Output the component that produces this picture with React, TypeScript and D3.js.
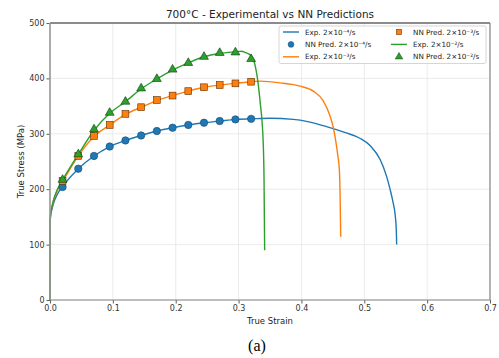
import * as d3 from 'd3';
import { useEffect, useRef } from 'react';

const X_TICKS = [0, 0.1, 0.2, 0.3, 0.4, 0.5, 0.6, 0.7];
const Y_TICKS = [0, 100, 200, 300, 400, 500];

// NN prediction points (same strain grid for all three rates)
const PRED_STRAIN = [0.02, 0.045, 0.07, 0.095, 0.12, 0.145, 0.17, 0.195, 0.22, 0.245, 0.27, 0.295, 0.32];
const PRED_LOW = [204, 237, 260, 277, 288, 297, 305, 311, 316, 320, 323, 326, 327];
const PRED_MID = [215, 260, 296, 316, 336, 348, 361, 369, 377, 384, 388, 391, 394];
const PRED_HIGH = [217, 263, 308, 338, 358, 382, 399, 416, 428, 439, 446, 447, 435];

// experimental curves: [strain, stress]
const EXP_LOW: [number, number][] = [
    [0, 0], [0.0002, 140], [0.001, 152], [0.003, 163], [0.006, 176], [0.01, 187], [0.015, 197],
    [0.02, 205], [0.045, 237], [0.07, 260], [0.095, 277], [0.12, 288], [0.145, 297], [0.17, 305],
    [0.195, 311], [0.22, 316], [0.245, 320], [0.27, 323], [0.295, 326], [0.32, 327], [0.35, 328],
    [0.387, 326], [0.41, 322], [0.44, 313], [0.47, 302], [0.493, 292], [0.51, 278], [0.525, 254],
    [0.535, 225], [0.541, 200], [0.546, 175], [0.549, 155], [0.551, 125], [0.5515, 100],
];
const EXP_MID: [number, number][] = [
    [0, 0], [0.0002, 142], [0.001, 155], [0.003, 167], [0.006, 181], [0.01, 193], [0.015, 205],
    [0.02, 214], [0.045, 260], [0.07, 295], [0.095, 316], [0.12, 335], [0.145, 348], [0.17, 360],
    [0.195, 369], [0.22, 377], [0.245, 384], [0.27, 388], [0.295, 391], [0.32, 394], [0.334, 395],
    [0.366, 392], [0.398, 386], [0.419, 377], [0.435, 359], [0.4455, 332], [0.451, 310],
    [0.455, 284], [0.458, 260], [0.4603, 236], [0.4615, 190], [0.4625, 114],
];
const EXP_HIGH: [number, number][] = [
    [0, 0], [0.0002, 143], [0.001, 156], [0.003, 168], [0.006, 182], [0.01, 195], [0.015, 207],
    [0.02, 217], [0.045, 263], [0.07, 306], [0.095, 337], [0.12, 358], [0.145, 381], [0.17, 399],
    [0.195, 415], [0.22, 428], [0.245, 439], [0.27, 445], [0.295, 448], [0.305, 449], [0.31, 447],
    [0.32, 441], [0.326, 425], [0.331, 392], [0.335, 350], [0.3375, 320], [0.339, 289],
    [0.3405, 220], [0.341, 150], [0.3415, 90],
];

const BLUE = '#1f77b4';
const ORANGE = '#ff7f0e';
const GREEN = '#2ca02c';

const LEGEND = [
    { label: 'Exp. 2×10⁻⁴/s', color: BLUE, kind: 'line' },
    { label: 'NN Pred. 2×10⁻⁴/s', color: BLUE, kind: 'circle' },
    { label: 'Exp. 2×10⁻³/s', color: ORANGE, kind: 'line' },
    { label: 'NN Pred. 2×10⁻³/s', color: ORANGE, kind: 'square' },
    { label: 'Exp. 2×10⁻²/s', color: GREEN, kind: 'line' },
    { label: 'NN Pred. 2×10⁻²/s', color: GREEN, kind: 'triangle' },
];

const W = 499;
const H = 358;
const margin = { top: 23, right: 9, bottom: 58, left: 50 };
const FONT = 'DejaVu Sans, sans-serif';

export default function App() {
    const svgRef = useRef<SVGSVGElement>(null);

    useEffect(() => {
        if (!svgRef.current) return;
        const svg = d3.select(svgRef.current);
        svg.selectAll('*').remove();

        const innerW = W - margin.left - margin.right;
        const innerH = H - margin.top - margin.bottom;
        const x = d3.scaleLinear().domain([0, 0.7]).range([0, innerW]);
        const y = d3.scaleLinear().domain([0, 500]).range([innerH, 0]);

        svg.append('rect').attr('width', W).attr('height', H).attr('fill', '#fff');

        svg.append('text')
            .attr('x', margin.left + innerW / 2)
            .attr('y', 18)
            .attr('text-anchor', 'middle')
            .attr('font-family', FONT)
            .attr('font-size', 10.5)
            .attr('fill', '#222')
            .text('700°C - Experimental vs NN Predictions');

        const g = svg.append('g').attr('transform', `translate(${margin.left},${margin.top})`);

        // grid
        g.append('g')
            .selectAll('line')
            .data(X_TICKS)
            .join('line')
            .attr('x1', (d) => x(d))
            .attr('x2', (d) => x(d))
            .attr('y1', 0)
            .attr('y2', innerH)
            .attr('stroke', '#e6e6e6')
            .attr('stroke-width', 0.8);
        g.append('g')
            .selectAll('line')
            .data(Y_TICKS)
            .join('line')
            .attr('x1', 0)
            .attr('x2', innerW)
            .attr('y1', (d) => y(d))
            .attr('y2', (d) => y(d))
            .attr('stroke', '#e6e6e6')
            .attr('stroke-width', 0.8);

        const line = d3
            .line<[number, number]>()
            .x((d) => x(d[0]))
            .y((d) => y(d[1]))
            .curve(d3.curveMonotoneX);

        const exps: [[number, number][], string][] = [
            [EXP_LOW, BLUE],
            [EXP_MID, ORANGE],
            [EXP_HIGH, GREEN],
        ];
        exps.forEach(([data, color]) => {
            g.append('path')
                .attr('d', line(data))
                .attr('fill', 'none')
                .attr('stroke', color)
                .attr('stroke-width', 1.4);
        });

        // NN prediction markers
        PRED_STRAIN.forEach((s, i) => {
            g.append('circle')
                .attr('cx', x(s))
                .attr('cy', y(PRED_LOW[i]))
                .attr('r', 3.7)
                .attr('fill', BLUE)
                .attr('stroke', '#1a4a6e')
                .attr('stroke-width', 0.6);
        });
        PRED_STRAIN.forEach((s, i) => {
            g.append('rect')
                .attr('x', x(s) - 3.4)
                .attr('y', y(PRED_MID[i]) - 3.4)
                .attr('width', 6.8)
                .attr('height', 6.8)
                .attr('fill', ORANGE)
                .attr('stroke', '#5a3000')
                .attr('stroke-width', 0.6);
        });
        const tri = d3.symbol().type(d3.symbolTriangle).size(34);
        PRED_STRAIN.forEach((s, i) => {
            g.append('path')
                .attr('d', tri())
                .attr('transform', `translate(${x(s)},${y(PRED_HIGH[i])})`)
                .attr('fill', GREEN)
                .attr('stroke', '#0f3a0f')
                .attr('stroke-width', 0.6);
        });

        // axes
        const xAxis = g
            .append('g')
            .attr('transform', `translate(0,${innerH})`)
            .call(d3.axisBottom(x).tickValues(X_TICKS).tickFormat(d3.format('.1f')).tickSize(3.5).tickPadding(2));
        const yAxis = g
            .append('g')
            .call(d3.axisLeft(y).tickValues(Y_TICKS).tickFormat(d3.format('d')).tickSize(3.5).tickPadding(2));
        [xAxis, yAxis].forEach((a) => {
            a.select('.domain').remove();
            a.selectAll('line').attr('stroke', '#333').attr('stroke-width', 0.8);
            a.selectAll('text').attr('font-family', FONT).attr('font-size', 8).attr('fill', '#333');
        });

        // spines
        g.append('line').attr('x1', 0).attr('x2', innerW).attr('y1', 0).attr('y2', 0).attr('stroke', '#222').attr('stroke-width', 1);
        g.append('line').attr('x1', 0).attr('x2', innerW).attr('y1', innerH).attr('y2', innerH).attr('stroke', '#888').attr('stroke-width', 1.2);
        g.append('line').attr('x1', 0).attr('x2', 0).attr('y1', 0).attr('y2', innerH).attr('stroke', '#999').attr('stroke-width', 1.6);
        g.append('line').attr('x1', innerW).attr('x2', innerW).attr('y1', 0).attr('y2', innerH).attr('stroke', '#888').attr('stroke-width', 1.2);

        // axis labels
        svg.append('text')
            .attr('x', margin.left + innerW / 2)
            .attr('y', 324)
            .attr('text-anchor', 'middle')
            .attr('font-family', FONT)
            .attr('font-size', 8.5)
            .attr('fill', '#222')
            .text('True Strain');
        svg.append('text')
            .attr('transform', `translate(24,${margin.top + innerH / 2}) rotate(-90)`)
            .attr('text-anchor', 'middle')
            .attr('font-family', FONT)
            .attr('font-size', 8.5)
            .attr('fill', '#222')
            .text('True Stress (MPa)');

        // legend
        const lg = svg.append('g');
        lg.append('rect')
            .attr('x', 279)
            .attr('y', 26)
            .attr('width', 207)
            .attr('height', 37.5)
            .attr('rx', 2)
            .attr('fill', '#fff')
            .attr('fill-opacity', 0.85)
            .attr('stroke', '#ccc')
            .attr('stroke-width', 0.8);
        const legTri = d3.symbol().type(d3.symbolTriangle).size(24);
        LEGEND.forEach((item, i) => {
            const col = Math.floor(i / 3);
            const row = i % 3;
            const hx = col === 0 ? 283 : 391;
            const hw = 16;
            const cy = 32 + row * 12.4;
            const cx = hx + hw / 2;
            if (item.kind === 'line') {
                lg.append('line').attr('x1', hx).attr('x2', hx + hw).attr('y1', cy).attr('y2', cy)
                    .attr('stroke', item.color).attr('stroke-width', 1.4);
            } else if (item.kind === 'circle') {
                lg.append('circle').attr('cx', cx).attr('cy', cy).attr('r', 2.9)
                    .attr('fill', item.color).attr('stroke', '#1a4a6e').attr('stroke-width', 0.5);
            } else if (item.kind === 'square') {
                lg.append('rect').attr('x', cx - 2.7).attr('y', cy - 2.7).attr('width', 5.4).attr('height', 5.4)
                    .attr('fill', item.color).attr('stroke', '#5a3000').attr('stroke-width', 0.5);
            } else {
                lg.append('path').attr('d', legTri()).attr('transform', `translate(${cx},${cy})`)
                    .attr('fill', item.color).attr('stroke', '#0f3a0f').attr('stroke-width', 0.5);
            }
            lg.append('text')
                .attr('x', hx + hw + 6)
                .attr('y', cy)
                .attr('dy', '0.35em')
                .attr('font-family', FONT)
                .attr('font-size', 7.2)
                .attr('fill', '#222')
                .text(item.label);
        });

        // caption
        svg.append('text')
            .attr('x', 257)
            .attr('y', 351)
            .attr('text-anchor', 'middle')
            .attr('font-family', 'Liberation Serif, Times New Roman, serif')
            .attr('font-size', 16)
            .attr('fill', '#000')
            .text('(a)');
    }, []);

    return (
        <svg
            ref={svgRef}
            width={W}
            height={H}
            style={{ position: 'absolute', left: 0, top: 0, display: 'block' }}
        />
    );
}
